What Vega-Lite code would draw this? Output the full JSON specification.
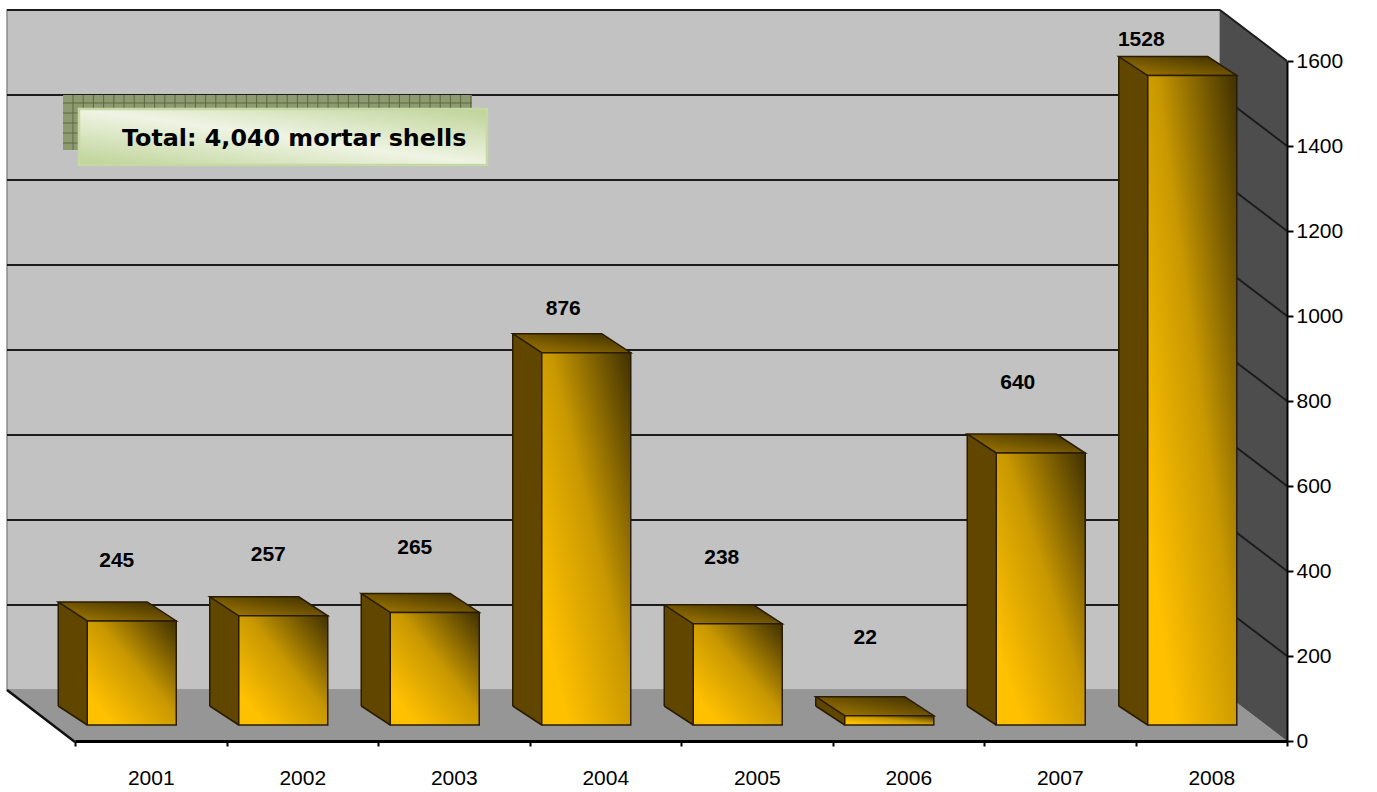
{"$schema":"https://vega.github.io/schema/vega-lite/v6.json","width":1212,"height":680,"autosize":"none","padding":{"left":75,"top":61,"right":90,"bottom":51},"background":"#ffffff","config":{"view":{"stroke":null},"text":{"font":"Liberation Sans"}},"resolve":{"axis":{"x":"independent","y":"independent"}},
"datasets":{"bars":[{"year":"2001","value":245},{"year":"2002","value":257},{"year":"2003","value":265},{"year":"2004","value":876},{"year":"2005","value":238},{"year":"2006","value":22},{"year":"2007","value":640},{"year":"2008","value":1528}],"grid":[{"tick":200},{"tick":400},{"tick":600},{"tick":800},{"tick":1000},{"tick":1200},{"tick":1400},{"tick":1600}],"origin":[{"part":"frame"}]},
"layer":[
{"data":{"name":"origin"},"mark":{"type":"point","filled":true,"opacity":1,"size":4,"shape":"M-68 -731H1145V-51H-68Z","fill":"#c2c2c2","stroke":"#8a8a8a","strokeWidth":1.5},"encoding":{"x":{"datum":"2001","type":"ordinal","bandPosition":0,"axis":null},"y":{"datum":0,"type":"quantitative","axis":null}}},
{"data":{"name":"grid"},"mark":{"type":"point","filled":false,"opacity":1,"size":4,"shape":"M0 0H1213","stroke":"#1c1c1c","strokeWidth":2,"xOffset":-68,"yOffset":-51},"encoding":{"x":{"datum":"2001","type":"ordinal","bandPosition":0,"axis":null},"y":{"field":"tick","type":"quantitative","axis":null}}},
{"data":{"name":"origin"},"mark":{"type":"point","filled":true,"opacity":1,"size":4,"shape":"M0 0L-68 -51H1145L1212 0Z","fill":"#969696"},"encoding":{"x":{"datum":"2001","type":"ordinal","bandPosition":0,"axis":null},"y":{"datum":0,"type":"quantitative","axis":null}}},
{"data":{"name":"origin"},"mark":{"type":"point","filled":false,"opacity":1,"size":4,"shape":"M0 1L-68 -51","stroke":"#111111","strokeWidth":2.5},"encoding":{"x":{"datum":"2001","type":"ordinal","bandPosition":0,"axis":null},"y":{"datum":0,"type":"quantitative","axis":null}}},
{"data":{"name":"origin"},"mark":{"type":"point","filled":true,"opacity":1,"size":4,"shape":"M0 0L-67 -51V-731L0 -680Z","fill":"#4d4d4d"},"encoding":{"x":{"datum":"2008","type":"ordinal","bandPosition":1,"axis":null},"y":{"datum":0,"type":"quantitative","axis":null}}},
{"data":{"name":"grid"},"mark":{"type":"point","filled":false,"opacity":1,"size":4,"shape":"M0 0L-67 -51","stroke":"#1c1c1c","strokeWidth":2},"encoding":{"x":{"datum":"2008","type":"ordinal","bandPosition":1,"axis":null},"y":{"field":"tick","type":"quantitative","axis":null}}},
{"data":{"name":"origin"},"mark":{"type":"point","filled":true,"opacity":1,"size":4,"shape":"M-12 34H397V89H-12Z","fill":"#8e9b72"},"encoding":{"x":{"datum":"2001","type":"ordinal","bandPosition":0,"axis":null},"y":{"datum":1600,"type":"quantitative","axis":null}}},
{"data":{"name":"origin"},"mark":{"type":"point","filled":false,"opacity":1,"size":4,"shape":"M-2 34V89M8.2 34V89M18.4 34V89M28.6 34V89M38.8 34V89M49 34V89M59.2 34V89M69.4 34V89M79.6 34V89M89.8 34V89M100 34V89M110.2 34V89M120.4 34V89M130.6 34V89M140.8 34V89M151 34V89M161.2 34V89M171.4 34V89M181.6 34V89M191.8 34V89M202 34V89M212.2 34V89M222.4 34V89M232.6 34V89M242.8 34V89M253 34V89M263.2 34V89M273.4 34V89M283.6 34V89M293.8 34V89M304 34V89M314.2 34V89M324.4 34V89M334.6 34V89M344.8 34V89M355 34V89M365.2 34V89M375.4 34V89M385.6 34V89M395.8 34V89M-12 42H397M-12 52H397M-12 62H397M-12 72H397M-12 82H397","stroke":"#5c6a3c","strokeWidth":1},"encoding":{"x":{"datum":"2001","type":"ordinal","bandPosition":0,"axis":null},"y":{"datum":1600,"type":"quantitative","axis":null}}},
{"data":{"name":"origin"},"mark":{"type":"point","filled":true,"opacity":1,"size":4,"shape":"M4 48H412V104H4Z","fill":{"gradient":"linear","x1":0,"y1":1,"x2":1,"y2":0,"stops":[{"offset":0,"color":"#bdd396"},{"offset":0.5,"color":"#eff4e4"},{"offset":1,"color":"#bdd396"}]},"stroke":"#c6d8a4","strokeWidth":2.5},"encoding":{"x":{"datum":"2001","type":"ordinal","bandPosition":0,"axis":null},"y":{"datum":1600,"type":"quantitative","axis":null}}},
{"data":{"values":[{"note":"Total: 4,040 mortar shells"}]},"mark":{"type":"text","font":"DejaVu Sans","fontWeight":"bold","fontSize":23.8,"align":"left","baseline":"middle","color":"#000000","dx":47,"dy":78},"encoding":{"x":{"datum":"2001","type":"ordinal","bandPosition":0,"axis":null},"y":{"datum":1600,"type":"quantitative","axis":null},"text":{"field":"note"}}},
{"data":{"name":"bars"},"mark":{"type":"bar","width":29,"fill":"#614600","xOffset":-78,"yOffset":-35,"y2Offset":-35},"encoding":{"x":{"field":"year","type":"ordinal","scale":{"paddingInner":0,"paddingOuter":0},"axis":{"title":null,"orient":"bottom","labelAngle":0,"tickBand":"extent","labelFont":"Liberation Sans","labelFontSize":21,"labelColor":"#000000","labelPadding":21,"tickSize":5,"tickColor":"#000000","tickWidth":2,"domainColor":"#000000","domainWidth":3,"zindex":1}},"y":{"field":"value","type":"quantitative","stack":null,"scale":{"domain":[0,1600],"nice":false},"axis":{"title":null,"orient":"right","format":"d","values":[0,200,400,600,800,1000,1200,1400,1600],"grid":false,"labelFont":"Liberation Sans","labelFontSize":21,"labelColor":"#000000","labelPadding":3,"tickSize":6,"tickColor":"#000000","tickWidth":2,"domainColor":"#000000","domainWidth":2,"zindex":1}},"y2":{"datum":0}}},
{"data":{"name":"bars"},"mark":{"type":"point","filled":true,"opacity":1,"size":4,"shape":"M0 0L-29 -19H0Z","fill":"#614600","xOffset":-63.5,"yOffset":-16},"encoding":{"x":{"field":"year","type":"ordinal","axis":null},"y":{"datum":0,"type":"quantitative","axis":null}}},
{"data":{"name":"bars"},"mark":{"type":"point","filled":false,"opacity":1,"size":4,"shape":"M0 0L-29 -19","stroke":"#2a1c00","strokeWidth":1.5,"xOffset":-63.5,"yOffset":-16},"encoding":{"x":{"field":"year","type":"ordinal","axis":null},"y":{"datum":0,"type":"quantitative","axis":null}}},
{"data":{"name":"bars"},"mark":{"type":"rule","stroke":"#2a1c00","strokeWidth":1.5,"xOffset":-92.5,"yOffset":-35,"y2Offset":-35},"encoding":{"x":{"field":"year","type":"ordinal","axis":null},"y":{"field":"value","type":"quantitative","axis":null},"y2":{"datum":0}}},
{"data":{"name":"bars"},"mark":{"type":"point","filled":true,"opacity":1,"size":4,"shape":"M0 0L-29 -19H60L89 0Z","fill":{"gradient":"linear","x1":0,"y1":1,"x2":1,"y2":0,"stops":[{"offset":0,"color":"#a67c00"},{"offset":1,"color":"#3a2c00"}]},"stroke":"#2a1c00","strokeWidth":1.5,"xOffset":-63.5,"yOffset":-16},"encoding":{"x":{"field":"year","type":"ordinal","axis":null},"y":{"field":"value","type":"quantitative","axis":null}}},
{"data":{"name":"bars"},"mark":{"type":"bar","width":89,"fill":{"gradient":"linear","x1":0,"y1":1,"x2":1,"y2":0,"stops":[{"offset":0,"color":"#ffc000"},{"offset":0.15,"color":"#ffc000"},{"offset":0.55,"color":"#c89800"},{"offset":1,"color":"#3f3000"}]},"stroke":"#2a1c00","strokeWidth":1.5,"xOffset":-19,"yOffset":-16,"y2Offset":-16},"encoding":{"x":{"field":"year","type":"ordinal","axis":null},"y":{"field":"value","type":"quantitative","stack":null,"axis":null},"y2":{"datum":0}}},
{"data":{"name":"bars"},"transform":[{"filter":"datum.year==='2001'"}],"mark":{"type":"text","fontWeight":"bold","fontSize":21,"align":"center","baseline":"middle","color":"#000000","dx":-34,"dy":-76},"encoding":{"x":{"field":"year","type":"ordinal","axis":null},"y":{"field":"value","type":"quantitative","axis":null},"text":{"field":"value"}}},
{"data":{"name":"bars"},"transform":[{"filter":"datum.year==='2002'"}],"mark":{"type":"text","fontWeight":"bold","fontSize":21,"align":"center","baseline":"middle","color":"#000000","dx":-34,"dy":-77},"encoding":{"x":{"field":"year","type":"ordinal","axis":null},"y":{"field":"value","type":"quantitative","axis":null},"text":{"field":"value"}}},
{"data":{"name":"bars"},"transform":[{"filter":"datum.year==='2003'"}],"mark":{"type":"text","fontWeight":"bold","fontSize":21,"align":"center","baseline":"middle","color":"#000000","dx":-39,"dy":-80},"encoding":{"x":{"field":"year","type":"ordinal","axis":null},"y":{"field":"value","type":"quantitative","axis":null},"text":{"field":"value"}}},
{"data":{"name":"bars"},"transform":[{"filter":"datum.year==='2004'"}],"mark":{"type":"text","fontWeight":"bold","fontSize":21,"align":"center","baseline":"middle","color":"#000000","dx":-42,"dy":-60},"encoding":{"x":{"field":"year","type":"ordinal","axis":null},"y":{"field":"value","type":"quantitative","axis":null},"text":{"field":"value"}}},
{"data":{"name":"bars"},"transform":[{"filter":"datum.year==='2005'"}],"mark":{"type":"text","fontWeight":"bold","fontSize":21,"align":"center","baseline":"middle","color":"#000000","dx":-35,"dy":-82},"encoding":{"x":{"field":"year","type":"ordinal","axis":null},"y":{"field":"value","type":"quantitative","axis":null},"text":{"field":"value"}}},
{"data":{"name":"bars"},"transform":[{"filter":"datum.year==='2006'"}],"mark":{"type":"text","fontWeight":"bold","fontSize":21,"align":"center","baseline":"middle","color":"#000000","dx":-43,"dy":-94},"encoding":{"x":{"field":"year","type":"ordinal","axis":null},"y":{"field":"value","type":"quantitative","axis":null},"text":{"field":"value"}}},
{"data":{"name":"bars"},"transform":[{"filter":"datum.year==='2007'"}],"mark":{"type":"text","fontWeight":"bold","fontSize":21,"align":"center","baseline":"middle","color":"#000000","dx":-42,"dy":-86},"encoding":{"x":{"field":"year","type":"ordinal","axis":null},"y":{"field":"value","type":"quantitative","axis":null},"text":{"field":"value"}}},
{"data":{"name":"bars"},"transform":[{"filter":"datum.year==='2008'"}],"mark":{"type":"text","fontWeight":"bold","fontSize":21,"align":"center","baseline":"middle","color":"#000000","dx":-70,"dy":-52},"encoding":{"x":{"field":"year","type":"ordinal","axis":null},"y":{"field":"value","type":"quantitative","axis":null},"text":{"field":"value"}}}
]}
